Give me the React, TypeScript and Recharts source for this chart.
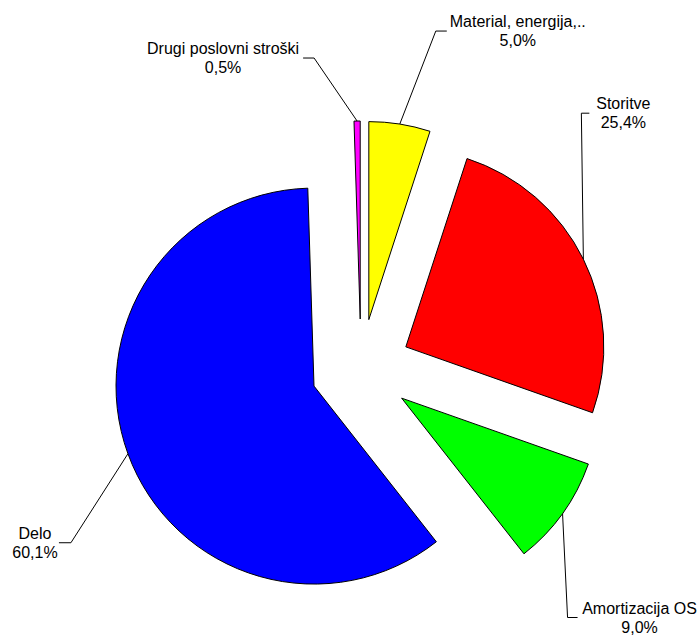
import React from "react";
import { PieChart, Pie, Sector } from "recharts";

// cost structure, clockwise from 12 o'clock
const categories = [
  "Material, energija,..",
  "Storitve",
  "Amortizacija OS",
  "Delo",
  "Drugi poslovni stroški",
];
const shares = [5.0, 25.4, 9.0, 60.1, 0.5];
const sliceColors = ["#FFFF00", "#FF0000", "#00FF00", "#0000FF", "#FF00FF"];

// leader line layout per slice: [elbow dx, elbow dy, arm dx, text center dx]
const labelLayout = [
  [36, -93, 11, 71],
  [-2, -146, 8, 34],
  [5, 104, 10, 62],
  [-57, 89, -12, -24],
  [-43, -63, -11, -80],
];

const data = categories.map((name, i) => ({ name, value: shares[i] }));

const RAD = Math.PI / 180;
const EXPLODE = 50;
const RADIUS = 198;

const fmt = (v: number) => v.toFixed(1).replace(".", ",") + "%";

const renderSlice = (props: any) => {
  const { cx, cy, midAngle, startAngle, endAngle, index } = props;
  const ux = Math.cos(-midAngle * RAD);
  const uy = Math.sin(-midAngle * RAD);
  const sx = cx + EXPLODE * ux;
  const sy = cy + EXPLODE * uy;
  // start of the leader line on the outer edge
  const lx = sx + RADIUS * ux;
  const ly = sy + RADIUS * uy;
  const [ex, ey, arm, tdx] = labelLayout[index];
  const elbowX = lx + ex;
  const elbowY = ly + ey;
  const armX = elbowX + arm;
  const textX = armX + tdx;
  return (
    <g key={`slice-${index}`}>
      <Sector
        cx={sx}
        cy={sy}
        innerRadius={0}
        outerRadius={RADIUS}
        startAngle={startAngle}
        endAngle={endAngle}
        fill={sliceColors[index]}
        stroke="#000"
        strokeWidth={1}
      />
      <polyline
        points={`${lx},${ly} ${elbowX},${elbowY} ${armX},${elbowY}`}
        fill="none"
        stroke="#000"
        strokeWidth={1}
      />
      <text
        x={textX}
        y={elbowY - 4}
        textAnchor="middle"
        fontSize={16}
        fontFamily="Arial, 'Liberation Sans', sans-serif"
        fill="#000"
      >
        {categories[index]}
      </text>
      <text
        x={textX}
        y={elbowY + 15}
        textAnchor="middle"
        fontSize={16}
        fontFamily="Arial, 'Liberation Sans', sans-serif"
        fill="#000"
      >
        {fmt(shares[index])}
      </text>
    </g>
  );
};

export default function App() {
  return (
    <div style={{ width: 700, height: 636, background: "#fff" }}>
      <style>{`body { margin: 0; }`}</style>
      <PieChart width={700} height={636} margin={{ top: 0, right: 0, bottom: 0, left: 0 }}>
        <Pie
          data={data}
          dataKey="value"
          nameKey="name"
          cx={361}
          cy={369}
          outerRadius={RADIUS}
          startAngle={90}
          endAngle={-270}
          fill="none"
          stroke="none"
          labelLine={false}
          label={renderSlice}
          isAnimationActive={false}
        />
      </PieChart>
    </div>
  );
}
